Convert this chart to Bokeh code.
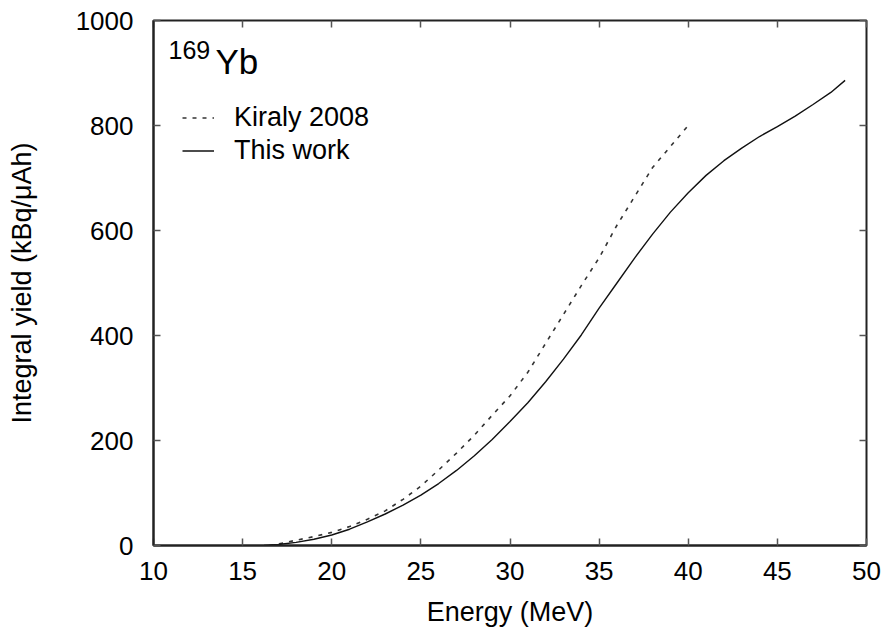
from bokeh.plotting import figure
from bokeh.models import (FixedTicker, LinearAxis, Label, Range1d, Legend, LegendItem,
                          CustomJSTickFormatter)
from bokeh.embed import file_html
from bokeh.resources import INLINE

# Data
this_work_E = [16.2, 17, 18, 19, 20, 21, 22, 23, 24, 25, 26, 27, 28, 29, 30, 31, 32, 33, 34, 35,
               36, 37, 38, 39, 40, 41, 42, 43, 44, 45, 46, 47, 48, 48.8]
this_work_Y = [0, 2, 6, 12, 20, 31, 45, 60, 77, 96, 118, 143, 171, 202, 236, 272, 312, 355, 401, 452,
               500, 548, 593, 635, 672, 705, 733, 757, 779, 798, 818, 840, 863, 886]

kiraly_E = [16.5, 17, 18, 19, 20, 21, 22, 23, 24, 25, 26, 27, 28, 29, 30, 31, 32, 33, 34, 35,
            36, 37, 38, 39, 40]
kiraly_Y = [0, 3, 10, 17, 25, 36, 50, 66, 88, 113, 144, 176, 210, 248, 285, 330, 385, 440, 495, 548,
            610, 665, 720, 760, 800]

x_ticks = [10, 15, 20, 25, 30, 35, 40, 45, 50]
y_ticks = [0, 200, 400, 600, 800, 1000]

FONT = "Liberation Sans"

p = figure(width=886, height=635, output_backend="svg", toolbar_location=None,
           x_range=Range1d(10, 50), y_range=Range1d(0, 1000),
           min_border_left=153, min_border_right=20, min_border_top=20, min_border_bottom=90,
           background_fill_color="white", border_fill_color="white")
p.grid.visible = False
p.outline_line_color = "#222222"
p.outline_line_width = 2

for ax in (p.xaxis[0], p.yaxis[0]):
    ax.major_tick_in = 7
    ax.major_tick_out = 0
    ax.minor_tick_line_color = None
    ax.axis_line_color = "#222222"
    ax.axis_line_width = 2
    ax.major_tick_line_color = "#555555"
    ax.major_tick_line_width = 1.5
    ax.major_label_text_font = FONT
    ax.major_label_text_font_size = "26px"
    ax.major_label_text_color = "black"
    ax.axis_label_text_font = FONT
    ax.axis_label_text_font_size = "27px"
    ax.axis_label_text_font_style = "normal"
    ax.axis_label_text_color = "black"

p.xaxis[0].ticker = FixedTicker(ticks=x_ticks)
p.yaxis[0].ticker = FixedTicker(ticks=y_ticks)
p.xaxis[0].axis_label = "Energy (MeV)"
p.yaxis[0].axis_label = "Integral yield (kBq/\u03bcAh)"
p.xaxis[0].major_label_standoff = 16
p.yaxis[0].major_label_standoff = 20
p.xaxis[0].axis_label_standoff = 14
p.yaxis[0].axis_label_standoff = 36

# mirror ticks on top and right (no labels)
blank = CustomJSTickFormatter(code="return ''")
top = LinearAxis(ticker=FixedTicker(ticks=x_ticks), major_tick_in=7, major_tick_out=0,
                 minor_tick_line_color=None, axis_line_color=None,
                 major_tick_line_color="#555555", major_tick_line_width=1.5,
                 formatter=blank, major_label_standoff=0)
right = LinearAxis(ticker=FixedTicker(ticks=y_ticks), major_tick_in=7, major_tick_out=0,
                   minor_tick_line_color=None, axis_line_color=None,
                   major_tick_line_color="#555555", major_tick_line_width=1.5,
                   formatter=blank, major_label_standoff=0)
p.add_layout(top, "above")
p.add_layout(right, "right")

r_k = p.line(kiraly_E, kiraly_Y, line_color="#333333", line_width=1.6, line_dash="4 6")
r_t = p.line(this_work_E, this_work_Y, line_color="#111111", line_width=1.4)

legend = Legend(items=[LegendItem(label="Kiraly 2008", renderers=[r_k]),
                       LegendItem(label="This work", renderers=[r_t])],
                location=(29, 378), padding=0, spacing=0, margin=0,
                label_height=33, glyph_height=33, glyph_width=32, label_standoff=20,
                border_line_color=None, background_fill_alpha=0,
                label_text_font=FONT, label_text_font_size="27px", label_text_color="black")
p.add_layout(legend, "center")

p.add_layout(Label(x=15, y=487, x_units="screen", y_units="screen", text="169",
                   text_font=FONT, text_font_size="25px", text_color="black"))
p.add_layout(Label(x=62, y=465, x_units="screen", y_units="screen", text="Yb",
                   text_font=FONT, text_font_size="35px", text_color="black"))

open("out.html", "w").write(file_html(p, INLINE))
